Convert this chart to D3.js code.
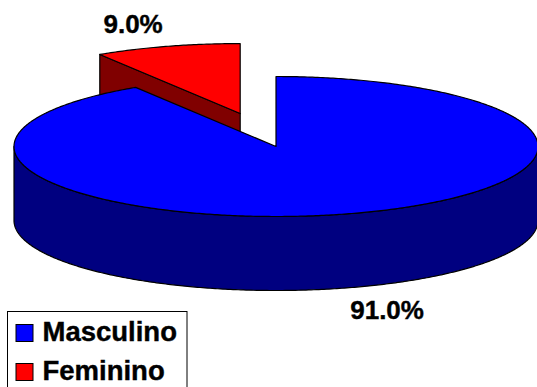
<!DOCTYPE html>
<html>
<head>
<meta charset="utf-8">
<script src="https://cdn.jsdelivr.net/npm/d3@7"></script>
<style>
  html, body { margin: 0; padding: 0; background: #fff; }
  svg { display: block; }
  text { font-family: "Liberation Sans", Arial, sans-serif; font-weight: bold; fill: #000; }
</style>
</head>
<body>
<script>
// Gender split
const categories = ["Masculino", "Feminino"];
const values = [91.0, 9.0];
const topColors = ["#0000FF", "#FF0000"];
const sideColors = ["#000080", "#800000"];
const explodeBy = [0, 0.49];

const W = 537, H = 387;
const cx = 276, cy = 146.5, rx = 262, ry = 70, depth = 74;

const svg = d3.select("body").append("svg")
  .attr("width", W).attr("height", H);

const pie = d3.pie().sort(null).value(d => d)(values);
const fmt = d3.format(".1f");

// project an angle (clockwise from 12 o'clock) onto the tilted ellipse
function pt(c, a, r, dz) {
  return [c[0] + rx * r * Math.sin(a), c[1] - ry * r * Math.cos(a) + dz];
}
function arcPts(c, a0, a1, dz) {
  const n = Math.max(2, Math.ceil(Math.abs(a1 - a0) / 0.01));
  return d3.range(n + 1).map(i => pt(c, a0 + (a1 - a0) * i / n, 1, dz));
}
const line = d3.line();

const slices = pie.map((p, i) => {
  const mid = (p.startAngle + p.endAngle) / 2;
  const e = explodeBy[i];
  const c = [cx + e * rx * Math.sin(mid), cy - e * ry * Math.cos(mid)];
  return { p, i, mid, c };
});

// paint back slices first
const order = slices.slice().sort((a, b) => Math.cos(b.mid) - Math.cos(a.mid));

const g = svg.append("g")
  .attr("stroke", "#000").attr("stroke-width", 1.2).attr("stroke-linejoin", "round");

order.forEach(s => {
  const { p, i, c } = s;
  const a0 = p.startAngle, a1 = p.endAngle;
  const side = sideColors[i], top = topColors[i];

  // radial cut faces
  const face = a => {
    const e0 = pt(c, a, 1, 0);
    return [c, e0, [e0[0], e0[1] + depth], [c[0], c[1] + depth]];
  };
  if (Math.sin(a0) < -1e-6) {
    g.append("path").attr("d", line(face(a0)) + "Z").attr("fill", side);
  }
  if (Math.sin(a1) > 1e-6) {
    g.append("path").attr("d", line(face(a1)) + "Z").attr("fill", side);
  }

  // outer rim, front half only
  const r0 = Math.max(a0, Math.PI / 2), r1 = Math.min(a1, 3 * Math.PI / 2);
  if (r1 > r0) {
    const upper = arcPts(c, r0, r1, 0);
    const lower = arcPts(c, r1, r0, depth);
    g.append("path").attr("d", line(upper.concat(lower)) + "Z").attr("fill", side);
  }

  // top surface
  const topPts = [c].concat(arcPts(c, a0, a1, 0));
  g.append("path").attr("d", line(topPts) + "Z").attr("fill", top);
});

// percentage labels placed off the slice edge along its mid angle
slices.forEach(s => {
  const front = Math.cos(s.mid) < 0;
  const edge = pt(s.c, s.mid, 1, front ? depth : 0);
  const sx = Math.sin(s.mid) >= 0 ? 1 : -1;
  const sy = front ? 1 : -1;
  svg.append("text")
    .attr("x", edge[0] + sx * 36 + 2)
    .attr("y", edge[1] + sy * 22)
    .attr("text-anchor", "middle")
    .attr("dominant-baseline", "central")
    .attr("font-size", 26)
    .attr("font-weight", "bold")
    .attr("stroke", "#000").attr("stroke-width", 0.4)
    .text(fmt(values[s.i]) + "%");
});

// legend
const lg = svg.append("g").attr("transform", "translate(7,311)");
lg.append("rect").attr("x", 0.5).attr("y", 0.5).attr("width", 179.5).attr("height", 90)
  .attr("fill", "#fff").attr("stroke", "#000").attr("stroke-width", 1);
const item = lg.selectAll("g.item").data(categories).join("g")
  .attr("class", "item")
  .attr("transform", (d, i) => `translate(0,${i * 39})`);
item.append("rect")
  .attr("x", 9).attr("y", 13.5).attr("width", 17).attr("height", 17)
  .attr("fill", (d, i) => topColors[i]).attr("stroke", "#000").attr("stroke-width", 1);
item.append("text")
  .attr("x", 35.5).attr("y", 30)
  .attr("font-size", 27.5)
  .attr("font-weight", "bold")
  .attr("stroke", "#000").attr("stroke-width", 0.4)
  .text(d => d);
</script>
</body>
</html>
